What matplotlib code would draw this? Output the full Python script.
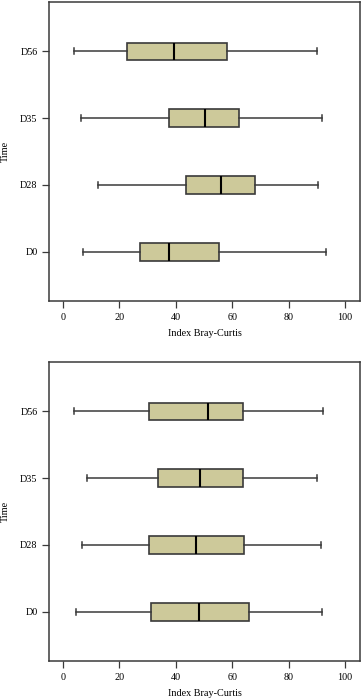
import matplotlib
matplotlib.use("Agg")
import matplotlib.pyplot as plt

plt.rcParams['font.family'] = ['Liberation Serif', 'DejaVu Serif']

categories = ["D0", "D28", "D35", "D56"]

# Top panel: whisker low, Q1, median, Q3, whisker high
top_wlo = [7.0, 12.3, 6.5, 3.9]
top_q1 = [27.3, 43.6, 37.7, 22.8]
top_med = [37.7, 55.9, 50.2, 39.5]
top_q3 = [55.2, 68.0, 62.4, 58.3]
top_whi = [93.3, 90.5, 91.7, 90.0]

# Bottom panel
bot_wlo = [4.6, 6.7, 8.5, 3.9]
bot_q1 = [31.3, 30.4, 33.5, 30.4]
bot_med = [48.3, 47.3, 48.5, 51.3]
bot_q3 = [65.8, 64.2, 63.7, 63.7]
bot_whi = [91.7, 91.3, 90.1, 92.1]

xticks = [0, 20, 40, 60, 80, 100]
xlabel = "Index Bray-Curtis"
ylabel = "Time"

fill = '#cdc99a'
edge = '#3a3a3a'
fs = 7.3

fig = plt.figure(figsize=(3.62, 7.0), dpi=100)
ax1 = fig.add_axes([0.1354, 0.570, 0.859, 0.427])
ax2 = fig.add_axes([0.1354, 0.0557, 0.859, 0.427])


def draw(ax, wlo, q1, med, q3, whi):
    stats = []
    for lab, a, b, c, d, e in zip(categories, wlo, q1, med, q3, whi):
        stats.append(dict(label=lab, whislo=a, q1=b, med=c, q3=d, whishi=e, fliers=[]))
    ax.bxp(stats, positions=[1, 2, 3, 4], vert=False, widths=0.26,
           patch_artist=True, showfliers=False, capwidths=0.09,
           boxprops=dict(facecolor=fill, edgecolor=edge, linewidth=1.2),
           medianprops=dict(color='black', linewidth=1.5),
           whiskerprops=dict(color=edge, linewidth=1.1, linestyle='-'),
           capprops=dict(color=edge, linewidth=1.1))
    ax.set_xlim(-5, 105.3)
    ax.set_ylim(0.265, 4.735)
    ax.set_xticks(xticks)
    ax.set_xticklabels([str(t) for t in xticks])
    ax.set_yticks([1, 2, 3, 4])
    ax.set_yticklabels(categories)
    ax.tick_params(axis='both', direction='out', length=5, width=0.9,
                   color=edge, labelsize=fs)
    ax.tick_params(axis='x', pad=3.6)
    ax.tick_params(axis='y', pad=3.3)
    for s in ax.spines.values():
        s.set_color(edge)
        s.set_linewidth(1.1)
    ax.set_xlabel(xlabel, fontsize=fs)
    ax.xaxis.set_label_coords(0.5, -0.108)
    ax.xaxis.label.set_va('center')
    ax.set_ylabel(ylabel, fontsize=fs)
    ax.yaxis.set_label_coords(-0.141, 0.5)
    ax.yaxis.label.set_va('center')


draw(ax1, top_wlo, top_q1, top_med, top_q3, top_whi)
draw(ax2, bot_wlo, bot_q1, bot_med, bot_q3, bot_whi)

fig.savefig("out.png", dpi=100)
